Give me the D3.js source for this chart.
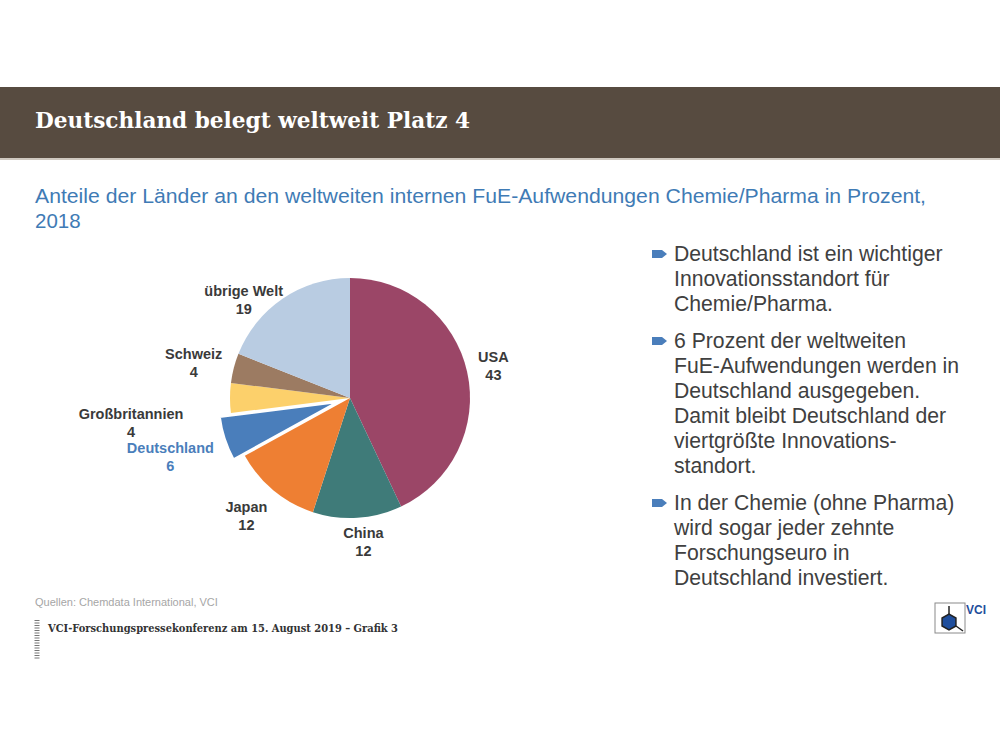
<!DOCTYPE html>
<html>
<head>
<meta charset="utf-8">
<script src="https://cdn.jsdelivr.net/npm/d3@7.9.0/dist/d3.min.js"></script>
<style>
  body { margin: 0; background: #fff; }
  svg { display: block; }
</style>
</head>
<body>
<svg id="chart" width="1000" height="750"></svg>
<script>
// data
const countries = ['USA', 'China', 'Japan', 'Deutschland', 'Großbritannien', 'Schweiz', 'übrige Welt'];
const shares = [43, 12, 12, 6, 4, 4, 19];
const colors = ['#9b4667', '#3f7b79', '#ee7f33', '#4a7ebb', '#fcd06b', '#9c7b62', '#b9cce2'];
const highlight = 'Deutschland';

const bullets = [
  ['Deutschland ist ein wichtiger', 'Innovationsstandort für', 'Chemie/Pharma.'],
  ['6 Prozent der weltweiten', 'FuE-Aufwendungen werden in', 'Deutschland ausgegeben.', 'Damit bleibt Deutschland der', 'viertgrößte Innovations-', 'standort.'],
  ['In der Chemie (ohne Pharma)', 'wird sogar jeder zehnte', 'Forschungseuro in', 'Deutschland investiert.']
];

const svg = d3.select('#chart');

// header bar
svg.append('rect').attr('x', 0).attr('y', 87).attr('width', 1000).attr('height', 71).attr('fill', '#574b40');
svg.append('rect').attr('x', 0).attr('y', 158).attr('width', 1000).attr('height', 2).attr('fill', '#cfc8c0');
svg.append('text')
  .attr('x', 35).attr('y', 128)
  .attr('fill', '#fff')
  .style('font', 'bold 22px "DejaVu Serif", serif')
  .attr('textLength', 435)
  .attr('lengthAdjust', 'spacingAndGlyphs')
  .text('Deutschland belegt weltweit Platz 4');

// subtitle
const sub = svg.append('text')
  .attr('fill', '#3f7bb5')
  .style('font', '20.5px "Liberation Sans", Arial, sans-serif');
sub.append('tspan').attr('x', 35).attr('y', 203)
  .attr('textLength', 891)
  .attr('lengthAdjust', 'spacingAndGlyphs')
  .text('Anteile der Länder an den weltweiten internen FuE-Aufwendungen Chemie/Pharma in Prozent,');
sub.append('tspan').attr('x', 35).attr('y', 228).text('2018');

// pie
const cx = 350, cy = 398, radius = 120;
const data = countries.map((c, i) => ({ name: c, value: shares[i], color: colors[i] }));
const pie = d3.pie().value(d => d.value).sort(null);
const arcs = pie(data);
const arc = d3.arc().innerRadius(0).outerRadius(radius);
const labelArc = d3.arc().innerRadius(150).outerRadius(150);

const g = svg.append('g').attr('transform', `translate(${cx},${cy})`);

function explode(d, dist) {
  const a = (d.startAngle + d.endAngle) / 2;
  return [Math.sin(a) * dist, -Math.cos(a) * dist];
}

g.selectAll('path')
  .data(arcs)
  .join('path')
  .attr('d', arc)
  .attr('fill', d => d.data.color)
  .attr('stroke', d => d.data.name === highlight ? '#fff' : 'none')
  .attr('stroke-width', 2.5)
  .attr('transform', d => {
    if (d.data.name !== highlight) return null;
    const [dx, dy] = explode(d, 12);
    return `translate(${dx},${dy})`;
  });

// label nudges, where the slide moved labels away from the plain centroid
const nudge = {
  'USA': [-3, 1], 'China': [4, -6], 'Japan': [-8, 2], 'Deutschland': [-37, 13],
  'Großbritannien': [-69, 25], 'Schweiz': [-11, 2], 'übrige Welt': [-22, 26]
};

const labels = g.selectAll('g.lbl')
  .data(arcs)
  .join('g')
  .attr('class', 'lbl')
  .attr('transform', d => {
    const [x, y] = labelArc.centroid(d);
    const [nx, ny] = nudge[d.data.name];
    return `translate(${x + nx},${y + ny})`;
  });

labels.append('text')
  .attr('text-anchor', 'middle')
  .attr('y', -4)
  .attr('fill', d => d.data.name === highlight ? '#4a7ebb' : '#3a3a3a')
  .style('font', 'bold 14.5px "Liberation Sans", Arial, sans-serif')
  .text(d => d.data.name);
labels.append('text')
  .attr('text-anchor', 'middle')
  .attr('y', 14)
  .attr('fill', d => d.data.name === highlight ? '#4a7ebb' : '#3a3a3a')
  .style('font', 'bold 14.5px "Liberation Sans", Arial, sans-serif')
  .text(d => d.data.value);

// bullet text on the right
let lineY = 254;
bullets.forEach(lines => {
  const by = lineY;
  svg.append('path')
    .attr('d', `M${652},${by - 4} L${662},${by - 4} L${667},${by} L${662},${by + 4} L${652},${by + 4} Z`)
    .attr('fill', '#4a7ebb');
  lines.forEach(t => {
    svg.append('text')
      .attr('x', 674).attr('y', lineY + 7)
      .attr('fill', '#404040')
      .style('font', '21.2px "Liberation Sans", Arial, sans-serif')
      .text(t);
    lineY += 25;
  });
  lineY += 12;
});

// source + footer
svg.append('text')
  .attr('x', 35).attr('y', 606)
  .attr('fill', '#a6a6a6')
  .style('font', '11px "Liberation Sans", Arial, sans-serif')
  .text('Quellen: Chemdata International, VCI');

svg.append('text')
  .attr('x', 48).attr('y', 632)
  .attr('fill', '#333')
  .style('font', 'bold 11px "DejaVu Serif", serif')
  .attr('textLength', 350)
  .attr('lengthAdjust', 'spacingAndGlyphs')
  .text('VCI-Forschungspressekonferenz am 15. August 2019 – Grafik 3');

svg.append('line')
  .attr('x1', 37).attr('x2', 37).attr('y1', 620).attr('y2', 660)
  .attr('stroke', '#777').attr('stroke-width', 5)
  .attr('stroke-dasharray', '1,1.5');

// VCI logo
const logo = svg.append('g').attr('transform', 'translate(935,603)');
logo.append('rect').attr('x', 0).attr('y', 0).attr('width', 30).attr('height', 30)
  .attr('fill', '#fff').attr('stroke', '#8a8a8a').attr('stroke-width', 1);
const hex = d3.range(6).map(i => {
  const a = Math.PI / 6 + i * Math.PI / 3;
  return [14 + 8 * Math.cos(a), 19 + 8 * Math.sin(a)];
});
logo.append('path').attr('d', 'M' + hex.map(p => p.join(',')).join('L') + 'Z')
  .attr('fill', '#1f4e9c').attr('stroke', '#222').attr('stroke-width', 1.5);
logo.append('line').attr('x1', 14).attr('y1', 3).attr('x2', 14).attr('y2', 11).attr('stroke', '#222').attr('stroke-width', 1.5);
logo.append('line').attr('x1', 21).attr('y1', 23).attr('x2', 28).attr('y2', 28).attr('stroke', '#222').attr('stroke-width', 1.5);
logo.append('text').attr('x', 31).attr('y', 11)
  .attr('fill', '#1f4e9c')
  .style('font', 'bold 12px "Liberation Sans", Arial, sans-serif')
  .text('VCI');
</script>
</body>
</html>
